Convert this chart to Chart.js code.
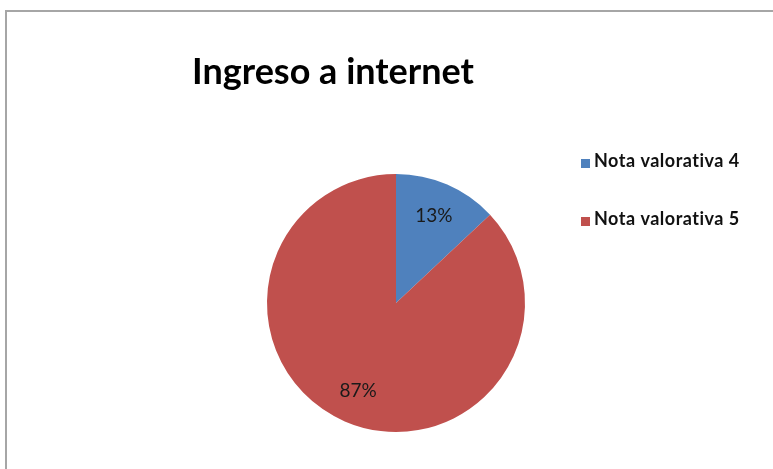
<!DOCTYPE html>
<html>
<head>
<meta charset="utf-8">
<title>Ingreso a internet</title>
<script src="https://cdn.jsdelivr.net/npm/chart.js@4.4.0/dist/chart.umd.min.js"></script>
<style>
    html, body { margin: 0; padding: 0; background: #fff; }
    #wrap { position: relative; width: 773px; height: 469px; }
</style>
</head>
<body>
<div id="wrap"><canvas id="grafico" width="773" height="469"></canvas></div>
<script>
const titulo = 'Ingreso a internet';
const categorias = ['Nota valorativa 4', 'Nota valorativa 5'];
const porcentajes = [13, 87];
const colores = ['#4F81BD', '#C0504D'];

const fuente = 'Lato, "Open Sans", sans-serif';

// Marco, título, leyenda y etiquetas de porcentaje
const decoracion = {
    id: 'decoracion',
    beforeDraw(chart) {
        const ctx = chart.ctx;
        ctx.save();
        ctx.strokeStyle = '#a6a6a6';
        ctx.lineWidth = 2;
        ctx.beginPath();
        ctx.moveTo(6, chart.height);
        ctx.lineTo(6, 11);
        ctx.lineTo(chart.width, 11);
        ctx.stroke();
        ctx.restore();
    },
    afterDraw(chart) {
        const ctx = chart.ctx;
        ctx.save();

        // título
        ctx.fillStyle = '#000';
        ctx.font = 'bold 36px ' + fuente;
        ctx.textAlign = 'center';
        ctx.textBaseline = 'alphabetic';
        ctx.fillText(titulo, 333, 84);

        // leyenda
        ctx.font = 'bold 18px ' + fuente;
        ctx.letterSpacing = '0.5px';
        ctx.textAlign = 'left';
        categorias.forEach((cat, i) => {
            const y = 167 + i * 58;
            ctx.fillStyle = colores[i];
            ctx.fillRect(581, y - 8, 9, 9);
            ctx.fillStyle = '#111';
            ctx.fillText(cat, 594, y);
        });
        ctx.letterSpacing = '0px';

        // porcentajes dentro de cada sector
        const meta = chart.getDatasetMeta(0);
        ctx.font = '19px ' + fuente;
        ctx.fillStyle = '#1a1a1a';
        ctx.textAlign = 'center';
        ctx.textBaseline = 'middle';
        meta.data.forEach((arco, i) => {
            const p = arco.getProps(['x', 'y', 'startAngle', 'endAngle', 'outerRadius']);
            const medio = (p.startAngle + p.endAngle) / 2;
            const r = p.outerRadius * 0.74;
            ctx.fillText(porcentajes[i] + '%', p.x + Math.cos(medio) * r, p.y + Math.sin(medio) * r);
        });
        ctx.restore();
    }
};

new Chart(document.getElementById('grafico'), {
    type: 'pie',
    data: {
        labels: categorias,
        datasets: [{
            data: porcentajes,
            backgroundColor: colores,
            borderWidth: 0,
            hoverOffset: 0
        }]
    },
    options: {
        responsive: false,
        animation: false,
        layout: {
            padding: { left: 267, right: 248, top: 174, bottom: 37 }
        },
        plugins: {
            legend: { display: false },
            title: { display: false },
            tooltip: { enabled: false }
        }
    },
    plugins: [decoracion]
});
</script>
</body>
</html>
